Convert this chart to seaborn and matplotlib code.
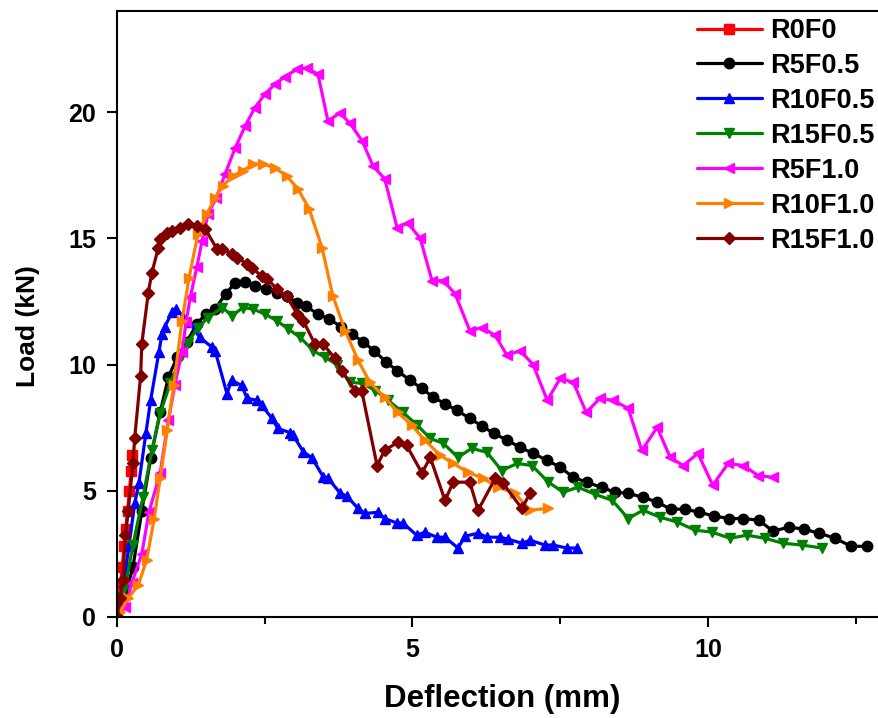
# Load-deflection curves for the beam series
import numpy as np
import pandas as pd
import seaborn as sns
import matplotlib
matplotlib.use('Agg')
import matplotlib.pyplot as plt
from matplotlib.ticker import MultipleLocator

# ---- data ----
names = ["R0F0", "R5F0.5", "R10F0.5", "R15F0.5", "R5F1.0", "R10F1.0", "R15F1.0"]

r0f0_x = [0, 0.03, 0.06, 0.09, 0.12, 0.15, 0.18, 0.21, 0.24, 0.26]
r0f0_y = [0, 0.6, 1.3, 2.0, 2.8, 3.5, 4.2, 5.0, 5.8, 6.4]

r5f05_x = [0, 0.14, 0.27, 0.42, 0.57, 0.73, 0.87, 1.02, 1.18, 1.35,
           1.5, 1.66, 1.84, 2.0, 2.17, 2.33, 2.52, 2.7, 2.87, 3.05,
           3.2, 3.4, 3.59, 3.79, 3.98, 4.16, 4.35, 4.55, 4.74, 4.96,
           5.16, 5.35, 5.55, 5.75, 5.97, 6.18, 6.38, 6.6, 6.82, 7.04,
           7.28, 7.5, 7.72, 7.95, 8.2, 8.43, 8.65, 8.9, 9.14, 9.37,
           9.61, 9.85, 10.1, 10.36, 10.6, 10.86, 11.1, 11.37, 11.62, 11.88,
           12.15, 12.42, 12.69]
r5f05_y = [0, 0.87, 1.98, 4.2, 6.3, 8.1, 9.5, 10.3, 10.9, 11.6,
           12.0, 12.2, 12.8, 13.24, 13.28, 13.1, 13.0, 12.85, 12.7, 12.45,
           12.3, 12.0, 11.8, 11.5, 11.2, 10.9, 10.55, 10.1, 9.76, 9.37,
           9.05, 8.7, 8.45, 8.18, 7.87, 7.55, 7.27, 7.0, 6.72, 6.48,
           6.2, 5.93, 5.53, 5.34, 5.13, 4.94, 4.9, 4.74, 4.55, 4.27,
           4.27, 4.15, 4.0, 3.9, 3.9, 3.83, 3.4, 3.56, 3.48, 3.32,
           3.12, 2.8, 2.8]

r10f05_x = [0, 0.05, 0.12, 0.2, 0.3, 0.37, 0.49, 0.57, 0.71, 0.76,
            0.81, 0.93, 1.0, 1.12, 1.22, 1.4, 1.6, 1.66, 1.86, 1.94,
            2.11, 2.2, 2.37, 2.45, 2.62, 2.72, 2.93, 2.98, 3.15, 3.3,
            3.49, 3.57, 3.77, 3.89, 4.08, 4.2, 4.42, 4.53, 4.74, 4.84,
            5.07, 5.21, 5.41, 5.55, 5.77, 5.89, 6.11, 6.26, 6.48, 6.62,
            6.85, 6.99, 7.24, 7.38, 7.61, 7.78]
r10f05_y = [0, 0.55, 1.4, 2.8, 4.5, 5.3, 7.3, 8.6, 10.5, 11.2,
            11.5, 12.06, 12.2, 11.9, 11.7, 11.07, 10.7, 10.55, 8.85, 9.37,
            9.17, 8.66, 8.58, 8.38, 7.87, 7.47, 7.3, 7.2, 6.55, 6.3,
            5.55, 5.5, 4.92, 4.78, 4.3, 4.1, 4.15, 3.9, 3.72, 3.72,
            3.24, 3.36, 3.16, 3.16, 2.73, 3.2, 3.32, 3.16, 3.16, 3.08,
            2.92, 3.04, 2.85, 2.85, 2.73, 2.73]

r15f05_x = [0, 0.05, 0.14, 0.27, 0.44, 0.59, 0.73, 0.9, 1.1, 1.2,
            1.37, 1.54, 1.78, 1.95, 2.13, 2.3, 2.5, 2.7, 2.9, 3.1,
            3.32, 3.52, 3.72, 3.94, 4.15, 4.37, 4.59, 4.84, 5.08, 5.3,
            5.52, 5.77, 6.0, 6.26, 6.51, 6.77, 7.02, 7.3, 7.55, 7.8,
            8.09, 8.38, 8.65, 8.9, 9.19, 9.48, 9.78, 10.07, 10.37, 10.66,
            10.96, 11.27, 11.59, 11.93]
r15f05_y = [0, 0.8, 1.2, 2.85, 4.75, 6.6, 8.06, 9.25, 10.36, 10.87,
            11.46, 11.86, 12.25, 11.94, 12.25, 12.2, 12.0, 11.74, 11.4, 11.07,
            10.55, 10.28, 10.0, 9.3, 9.25, 8.97, 8.58, 8.1, 7.6, 7.07,
            6.88, 6.32, 6.68, 6.52, 5.8, 6.08, 6.0, 5.34, 4.94, 5.14,
            4.86, 4.62, 3.9, 4.23, 3.95, 3.76, 3.44, 3.36, 3.12, 3.24,
            3.12, 2.92, 2.85, 2.73]

r5f10_x = [0, 0.14, 0.25, 0.42, 0.54, 0.73, 0.87, 0.98, 1.1, 1.17,
           1.24, 1.35, 1.44, 1.54, 1.68, 1.83, 2.0, 2.17, 2.33, 2.5,
           2.67, 2.84, 3.05, 3.21, 3.4, 3.57, 3.77, 3.94, 4.15, 4.33,
           4.53, 4.74, 4.92, 5.13, 5.33, 5.52, 5.72, 5.97, 6.18, 6.4,
           6.6, 6.82, 7.04, 7.28, 7.5, 7.72, 7.94, 8.17, 8.4, 8.65,
           8.88, 9.14, 9.36, 9.58, 9.83, 10.08, 10.34, 10.6, 10.85, 11.1]
r5f10_y = [0, 0.4, 1.34, 2.5, 4.15, 5.7, 7.8, 9.2, 10.5, 11.7,
           12.66, 13.85, 14.9, 15.96, 16.6, 17.55, 18.58, 19.45, 20.16, 20.7,
           21.1, 21.4, 21.7, 21.74, 21.5, 19.64, 19.96, 19.56, 18.85, 17.87,
           17.35, 15.42, 15.6, 15.0, 13.32, 13.32, 12.8, 11.34, 11.46, 11.15,
           10.36, 10.55, 10.0, 8.58, 9.45, 9.3, 8.1, 8.66, 8.58, 8.26,
           6.6, 7.51, 6.32, 6.0, 6.48, 5.22, 6.08, 6.0, 5.6, 5.53]

r10f10_x = [0, 0.05, 0.19, 0.36, 0.5, 0.63, 0.73, 0.85, 0.96, 1.1,
            1.22, 1.37, 1.52, 1.66, 1.79, 1.96, 2.13, 2.3, 2.47, 2.67,
            2.87, 3.06, 3.25, 3.47, 3.65, 3.86, 4.08, 4.28, 4.53, 4.75,
            4.99, 5.21, 5.47, 5.69, 5.94, 6.19, 6.45, 6.73, 6.99, 7.29]
r10f10_y = [0, 0.2, 0.75, 1.26, 2.25, 3.9, 5.5, 7.4, 9.17, 11.74,
            13.44, 15.18, 15.96, 16.6, 17.07, 17.47, 17.67, 17.94, 17.94, 17.79,
            17.47, 16.96, 16.17, 14.62, 12.73, 11.34, 10.16, 9.29, 8.7, 8.1,
            7.59, 7.0, 6.4, 6.08, 5.73, 5.49, 5.14, 4.9, 4.23, 4.3]

r15f10_x = [0, 0.05, 0.1, 0.14, 0.19, 0.27, 0.3, 0.4, 0.42, 0.53,
            0.59, 0.7, 0.73, 0.84, 0.93, 1.07, 1.2, 1.35, 1.49, 1.69,
            1.78, 1.95, 2.03, 2.2, 2.28, 2.45, 2.54, 2.7, 2.87, 3.05,
            3.15, 3.35, 3.49, 3.69, 3.8, 4.03, 4.14, 4.4, 4.53, 4.75,
            4.9, 5.16, 5.3, 5.55, 5.69, 5.97, 6.11, 6.4, 6.53, 6.85,
            6.99]
r15f10_y = [0, 0.75, 1.46, 3.24, 4.2, 6.1, 7.1, 9.56, 10.83, 12.85,
            13.64, 14.62, 14.98, 15.2, 15.3, 15.42, 15.57, 15.5, 15.38, 14.58,
            14.58, 14.38, 14.23, 13.99, 13.83, 13.5, 13.4, 13.0, 12.7, 12.0,
            11.74, 10.8, 10.8, 10.24, 9.76, 8.97, 8.97, 6.0, 6.6, 6.92,
            6.8, 5.7, 6.32, 4.62, 5.34, 5.34, 4.23, 5.49, 5.3, 4.3,
            4.9]

series_x = [r0f0_x, r5f05_x, r10f05_x, r15f05_x, r5f10_x, r10f10_x, r15f10_x]
series_y = [r0f0_y, r5f05_y, r10f05_y, r15f05_y, r5f10_y, r10f10_y, r15f10_y]

colors = ["#FF0000", "#000000", "#0000FF", "#008000", "#FF00FF", "#FF8000", "#800000"]
marker_list = ["s", "o", "^", "v", "<", ">", "D"]

df = pd.concat([pd.DataFrame({"Deflection": x, "Load": y, "Sample": n})
                for n, x, y in zip(names, series_x, series_y)], ignore_index=True)

# ---- style ----
sns.set_style("ticks")
plt.rcParams['font.family'] = ['Liberation Sans', 'DejaVu Sans']
plt.rcParams['font.weight'] = 'bold'
plt.rcParams['axes.labelweight'] = 'bold'
plt.rcParams['text.color'] = 'black'
plt.rcParams['axes.labelcolor'] = 'black'

fig = plt.figure(figsize=(8.79, 7.18), dpi=100)
# axes run past the right edge of the figure, like the cropped original
ax_w = 14 * 59.1 / 879
ax = fig.add_axes([117 / 879, 101 / 718, ax_w, 606 / 718])

sns.lineplot(data=df, x="Deflection", y="Load", hue="Sample", style="Sample",
             hue_order=names, style_order=names,
             palette=dict(zip(names, colors)), markers=dict(zip(names, marker_list)),
             dashes=False, sort=False, estimator=None, linewidth=2.3,
             markersize=7.5, legend=False, ax=ax)

lines = ax.lines[:len(names)]
for ln, c, m in zip(lines, colors, marker_list):
    ln.set_markeredgecolor(c)
    ln.set_markerfacecolor(c)
    ln.set_markeredgewidth(1.0)
    if m == "D":
        ln.set_markersize(6.5)

ax.set_xlim(0, 14)
ax.set_ylim(0, 24)
ax.xaxis.set_major_locator(MultipleLocator(5))
ax.xaxis.set_minor_locator(MultipleLocator(2.5))
ax.yaxis.set_major_locator(MultipleLocator(5))

for side in ["top", "right", "left", "bottom"]:
    ax.spines[side].set_visible(True)
    ax.spines[side].set_linewidth(1.5)
    ax.spines[side].set_color("black")

ax.tick_params(axis="both", which="major", direction="out", length=7, width=1.5,
               labelsize=18, pad=8, colors="black", labelcolor="black")
ax.tick_params(axis="x", which="minor", direction="out", length=5, width=1.5, colors="black")
for lbl in ax.get_xticklabels() + ax.get_yticklabels():
    lbl.set_fontweight("bold")

ax.set_xlabel("Deflection (mm)", fontsize=22.5, fontweight="bold", color="black")
ax.set_ylabel("Load (kN)", fontsize=19, fontweight="bold", color="black")
ax.xaxis.set_label_coords((502 - 117) / (ax_w * 879), -0.11)
ax.yaxis.set_label_coords(-(117 - 40) / (ax_w * 879), 0.48)

leg = fig.legend(lines, names, loc="upper left",
                 bbox_to_anchor=(697 / 879, 1 - 18 / 718), bbox_transform=fig.transFigure,
                 frameon=False, borderpad=0, borderaxespad=0, handlelength=2.4,
                 handletextpad=0.3, labelspacing=0.33,
                 prop={"weight": "bold", "size": 19.5})

fig.savefig("out.png", dpi=100)
plt.close()
